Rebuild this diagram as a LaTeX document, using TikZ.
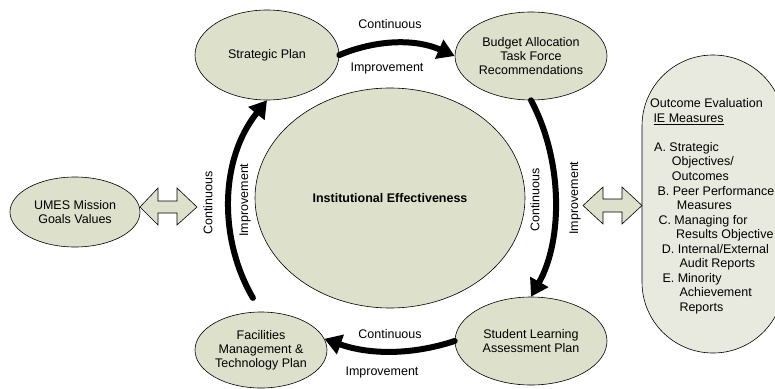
\documentclass[tikz,border=0pt]{standalone}
\usepackage{fontspec}
\setmainfont{Liberation Sans}
\usetikzlibrary{arrows.meta,shapes.geometric}
\definecolor{olivefill}{RGB}{221,224,203}
\definecolor{palefill}{RGB}{233,234,223}
\begin{document}
\begin{tikzpicture}[x=1pt,y=-1pt,
  every node/.style={font=\fontsize{12.5}{14.2}\selectfont},
  bubble/.style={ellipse, draw=black, line width=0.6pt, fill=olivefill, inner sep=0pt, align=center},
  flow/.style={line width=6pt, line cap=round, -{Triangle[length=17pt,width=20pt]}},
  blockarrow/.style={draw=black, line width=0.6pt, fill=olivefill, line join=miter},
  outtext/.style={anchor=base west, inner sep=0pt}]
\useasboundingbox (0,0) rectangle (775,388);
\clip (0,0) rectangle (775,388);

% outcome stadium
\node[draw=black, line width=0.6pt, fill=palefill, rounded corners=70.9pt,
      minimum width=142pt, minimum height=298pt, inner sep=0pt] (oe) at (713,204) {};

% ellipses
\node[bubble, minimum width=144pt, minimum height=90pt] (sp) at (267,55) {Strategic Plan};
\node[bubble, minimum width=152pt, minimum height=88pt] (ba) at (531,56) {Budget Allocation\\Task Force\\Recommendations};
\node[bubble, minimum width=270pt, minimum height=220pt, font=\fontsize{12.5}{14.2}\selectfont\bfseries] (ie) at (390,198) {Institutional Effectiveness};
\node[bubble, minimum width=152pt, minimum height=88pt] (sl) at (531,341) {Student Learning\\Assessment Plan};
\node[bubble, minimum width=132pt, minimum height=76pt] (fm) at (261,350) {Facilities\\Management \&\\Technology Plan};
\node[bubble, minimum width=130pt, minimum height=70pt] (um) at (75,212) {UMES Mission\\Goals Values};

% block double arrows
\draw[blockarrow] (140,207) -- (158,188) -- (158,201) -- (177,201) -- (177,188) -- (197,207)
  -- (177,225) -- (177,213) -- (158,213) -- (158,225) -- cycle;
\draw[blockarrow] (583,205.5) -- (603,187) -- (603,199) -- (622,199) -- (622,187) -- (642,205.5)
  -- (622,224) -- (622,212) -- (603,212) -- (603,224) -- cycle;

% cycle arrows
\draw[flow] (sp.east) .. controls (378,39) and (416,39) .. (ba.west);
\draw[flow] (ba.south) .. controls (563,160) and (563,240) .. (sl.north);
\draw[flow] (sl.west) .. controls (412,355) and (370,355) .. (fm.10);
\draw[flow, shorten <=16pt] (fm.north) .. controls (219,240) and (219,160) .. (sp.south);

% labels
\node (c1) at (390,24) {Continuous};
\node (i1) at (387,68) {Improvement};
\node[rotate=90] (c2) at (535,200) {Continuous};
\node[rotate=90] (i2) at (575,198) {Improvement};
\node (c3) at (390,334) {Continuous};
\node (i3) at (382,372) {Improvement};
\node[rotate=90] (c4) at (208,203) {Continuous};
\node[rotate=90] (i4) at (245,200) {Improvement};

% outcome text
\foreach \n/\x/\y/\t in {
  o1/650/107.8/{Outcome Evaluation},
  o2/653.3/122.3/{\underline{IE Measures}},
  o3/654/151.4/{A. Strategic},
  o4/671.7/165.9/{Objectives/},
  o5/671.7/180.5/{Outcomes},
  o6/657.3/195.0/{B. Peer Performance},
  o7/676.7/209.5/{Measures},
  o8/658.3/224.1/{C. Managing for},
  o9/676/238.6/{Results Objective},
  o10/661.7/253.1/{D. Internal/External},
  o11/679.3/267.7/{Audit Reports},
  o12/662.3/282.2/{E. Minority},
  o13/679.3/296.7/{Achievement},
  o14/679.3/311.3/{Reports}}
  \node[outtext] (\n) at (\x,\y) {\t};
\end{tikzpicture}
\end{document}
